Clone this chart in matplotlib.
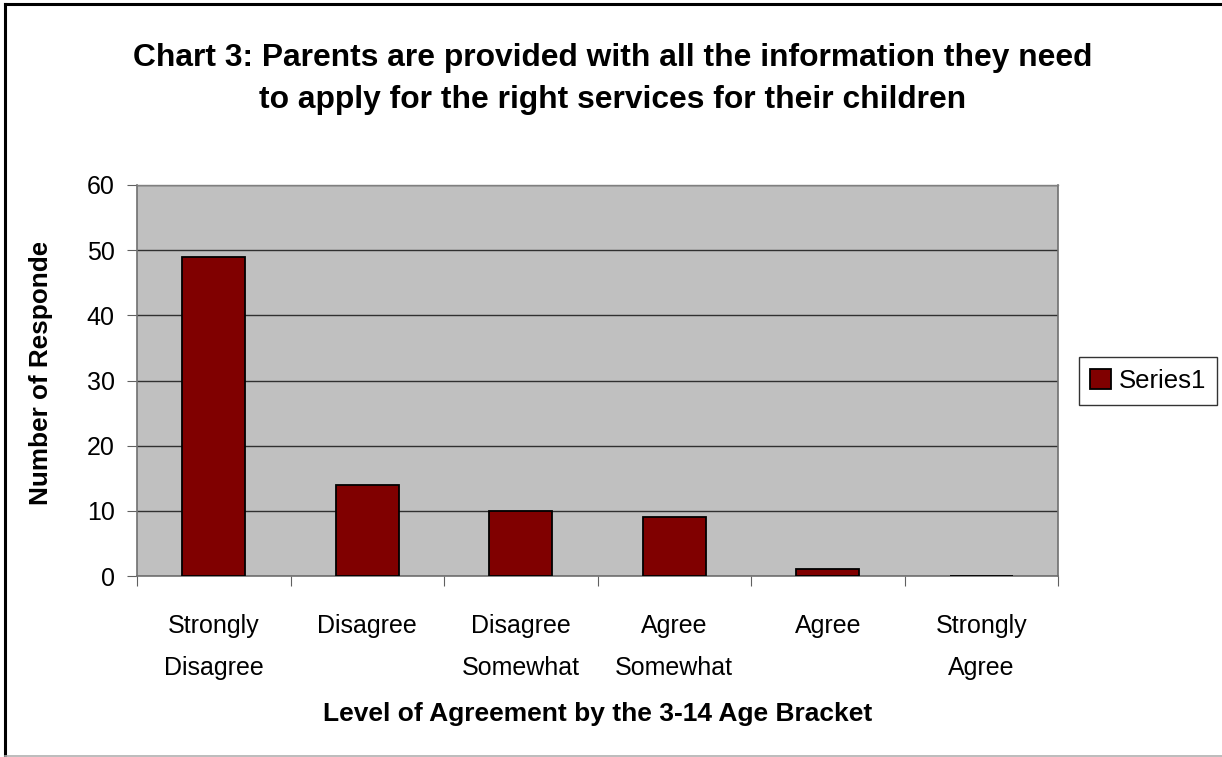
import matplotlib.pyplot as plt
from matplotlib.transforms import Bbox
from matplotlib.lines import Line2D

categories = ["Strongly\nDisagree", "Disagree", "Disagree\nSomewhat",
              "Agree\nSomewhat", "Agree", "Strongly\nAgree"]
values = [49, 14, 10, 9, 1, 0]
series_name = "Series1"

W, H = 1222, 757
plt.rcParams['font.family'] = ['Liberation Sans', 'DejaVu Sans']

fig = plt.figure(figsize=(W / 100, H / 100), dpi=100)
fig.patch.set_facecolor('white')

# outer chart border (top and left black, bottom light grey)
fig.lines.append(Line2D([5 / W, 5 / W], [0, 1 - 4 / H], transform=fig.transFigure,
                        color='black', linewidth=2.2))
fig.lines.append(Line2D([5 / W, 1], [1 - 4 / H, 1 - 4 / H], transform=fig.transFigure,
                        color='black', linewidth=2.2))
fig.lines.append(Line2D([5 / W, 1], [1 - 756 / H, 1 - 756 / H], transform=fig.transFigure,
                        color='#B0B0B0', linewidth=1.2))

ax = fig.add_axes([137 / W, 1 - 576 / H, (1058 - 137) / W, (576 - 185) / H])
ax.set_facecolor('#C0C0C0')

xs = list(range(len(categories)))
ax.bar(xs, values, width=0.41, color='#800000', edgecolor='black',
       linewidth=1.3, zorder=3, label=series_name)

ax.set_xlim(-0.5, len(categories) - 0.5)
ax.set_ylim(0, 60)
ax.set_yticks(range(0, 61, 10))
ax.yaxis.grid(True, color='#303030', linewidth=1)
ax.set_axisbelow(True)

ax.set_xticks([i - 0.5 for i in range(len(categories) + 1)])
ax.set_xticklabels([])
ax.set_xticks(xs, minor=True)
ax.set_xticklabels(categories, minor=True, fontsize=18, linespacing=1.95)
ax.tick_params(axis='x', which='minor', length=0, pad=27)
ax.tick_params(axis='x', which='major', length=7, color='#606060', direction='out')
ax.tick_params(axis='y', length=7, color='#606060', labelsize=18, pad=9)

for s in ['left', 'bottom', 'right']:
    ax.spines[s].set_color('#707070')
    ax.spines[s].set_linewidth(1.2)
ax.spines['top'].set_color('#808080')
ax.spines['top'].set_linewidth(1)

ax.set_xlabel("Level of Agreement by the 3-14 Age Bracket", fontsize=19,
              fontweight='bold', labelpad=16)

# y label, clipped like in the original
ylab = fig.text(41 / W, 1 - 505 / H, "Number of Respondents", rotation=90,
                ha='left', va='center', rotation_mode='anchor',
                fontsize=18.8, fontweight='bold')
ylab.set_clip_box(Bbox([[0, 0], [W, H - 243]]))
ylab.set_clip_on(True)

fig.text(613 / W, 1 - 79 / H,
         "Chart 3: Parents are provided with all the information they need\n"
         "to apply for the right services for their children",
         ha='center', va='center', fontsize=22.9, fontweight='bold',
         linespacing=1.52)

leg = fig.legend(loc='center', bbox_to_anchor=(1148 / W, 1 - 381 / H),
                 fontsize=18.5, frameon=True, fancybox=False, edgecolor='black',
                 handlelength=0.8, handleheight=0.8, handletextpad=0.3,
                 borderpad=0.45, borderaxespad=0)
leg.get_frame().set_linewidth(1)

fig.savefig('out.png', dpi=100)
